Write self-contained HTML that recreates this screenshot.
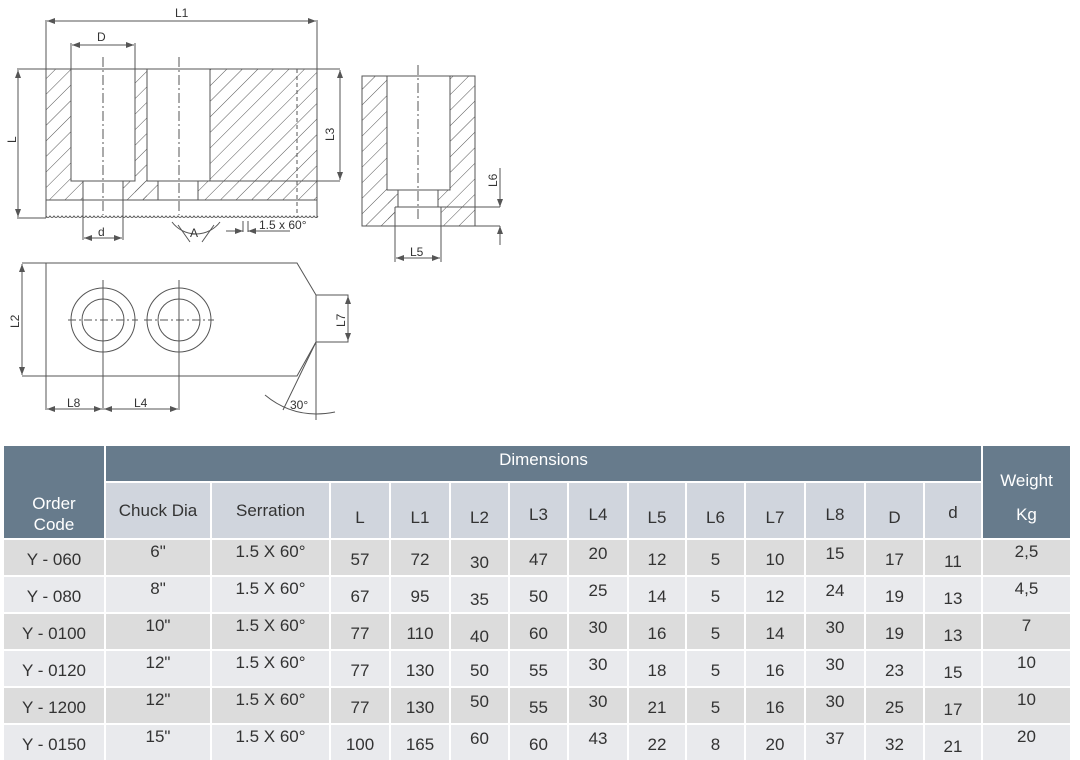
<!DOCTYPE html>
<html><head><meta charset="utf-8"><style>
html,body{margin:0;padding:0;background:#fff;width:1080px;height:759px;overflow:hidden;font-family:"Liberation Sans",sans-serif}
svg{position:absolute;left:0;top:0}
.g{position:absolute;left:4px;top:446px;display:grid;grid-template-columns:100px 104px 117px 58px 58px 57px 57px 58px 56px 57px 58px 58px 57px 56px 87px;grid-template-rows:35px 55px 35px 35px 35px 35px 35px 35px;gap:2px;}
.g div{display:flex;align-items:center;justify-content:center;color:#333;font-size:17px;padding-top:4px;box-sizing:border-box}
.g .h{background:#677b8c;color:#fff;padding-top:0}
.g .s{background:#d0d5dd;padding-top:14px}
.g .a{background:#dcdcdc}
.g .b{background:#e9eaed}
.g .w{align-items:flex-start;padding-top:2px}
</style></head><body>
<svg width="1080" height="440" viewBox="0 0 1080 440" font-family="Liberation Sans, sans-serif" font-size="11" fill="none" stroke="#555" stroke-width="1">
<defs>
<pattern id="hp" patternUnits="userSpaceOnUse" width="11" height="11" patternTransform="rotate(45)">
<line x1="0" y1="0" x2="0" y2="11" stroke="#555" stroke-width="1"/>
</pattern>
<marker id="ar" markerWidth="8" markerHeight="6" refX="8" refY="3" orient="auto-start-reverse" markerUnits="userSpaceOnUse"><path d="M0,0 L8,3 L0,6 z" fill="#555" stroke="none"/></marker>
</defs>
<g fill="url(#hp)" stroke="none">
<rect x="46" y="69" width="25" height="131"/>
<rect x="71" y="181" width="12" height="19"/>
<rect x="135" y="69" width="12" height="131"/>
<rect x="123" y="181" width="35" height="19"/>
<rect x="210" y="69" width="107" height="131"/>
<rect x="198" y="181" width="12" height="19"/>
<rect x="362" y="76" width="25" height="150"/>
<rect x="450" y="76" width="25" height="131"/>
<rect x="387" y="190" width="11" height="36"/>
<rect x="438" y="190" width="12" height="17"/>
<rect x="441" y="207" width="34" height="19"/>
</g>
<rect x="395" y="207" width="46" height="19" fill="#fff" stroke="none"/>
<rect x="388" y="190" width="7" height="36" fill="url(#hp)" stroke="none"/>
<line x1="17" y1="69" x2="340" y2="69"/>
<path d="M46 69 V218 M317 69 V218 M46 200 H317"/>
<path d="M71 69 V181 H135 V69 M147 69 V181 H210 V69"/>
<path d="M83 181 V240 M123 181 V240 M158 181 V200 M198 181 V200"/>
<line x1="210" y1="181" x2="340" y2="181"/>
<line x1="297" y1="69" x2="297" y2="218" stroke-dasharray="4,3"/>
<path d="M46 216 q2 3 4 0 q2 3 4 0 q2 3 4 0 q2 3 4 0 q2 3 4 0 q2 3 4 0 q2 3 4 0 q2 3 4 0 q2 3 4 0 q2 3 4 0 q2 3 4 0 q2 3 4 0 q2 3 4 0 q2 3 4 0 q2 3 4 0 q2 3 4 0 q2 3 4 0 q2 3 4 0 q2 3 4 0 q2 3 4 0 q2 3 4 0 q2 3 4 0 q2 3 4 0 q2 3 4 0 q2 3 4 0 q2 3 4 0 q2 3 4 0 q2 3 4 0 q2 3 4 0 q2 3 4 0 q2 3 4 0 q2 3 4 0 q2 3 4 0 q2 3 4 0 q2 3 4 0 q2 3 4 0 q2 3 4 0 q2 3 4 0 q2 3 4 0 q2 3 4 0 q2 3 4 0 q2 3 4 0 q2 3 4 0 q2 3 4 0 q2 3 4 0 q2 3 4 0 q2 3 4 0 q2 3 4 0 q2 3 4 0 q2 3 4 0 q2 3 4 0 q2 3 4 0 q2 3 4 0 q2 3 4 0 q2 3 4 0 q2 3 4 0 q2 3 4 0 q2 3 4 0 q2 3 4 0 q2 3 4 0 q2 3 4 0 q2 3 4 0 q2 3 4 0 q2 3 4 0 q2 3 4 0 q2 3 4 0 q2 3 4 0 q2 3 4 0"/>
<path d="M103 57 V215 M179 57 V215" stroke-dasharray="10,3,2,3"/>
<path d="M46 20 V69 M317 20 V69"/>
<line x1="47" y1="21" x2="316" y2="21" marker-start="url(#ar)" marker-end="url(#ar)"/>
<path d="M71 43 V69 M135 43 V69"/>
<line x1="72" y1="45" x2="134" y2="45" marker-start="url(#ar)" marker-end="url(#ar)"/>
<line x1="17" y1="218" x2="46" y2="218"/>
<line x1="18" y1="70" x2="18" y2="217" marker-start="url(#ar)" marker-end="url(#ar)"/>
<line x1="340" y1="70" x2="340" y2="180" marker-start="url(#ar)" marker-end="url(#ar)"/>
<line x1="84" y1="238" x2="122" y2="238" marker-start="url(#ar)" marker-end="url(#ar)"/>
<path d="M172 222 A30 30 0 0 0 220 222"/>
<path d="M178 225 L190 242 M214 225 L202 242"/>
<path d="M243 221 V232 M248 221 V232"/>
<line x1="226" y1="231" x2="243" y2="231" marker-end="url(#ar)"/>
<line x1="265" y1="231" x2="248" y2="231" marker-end="url(#ar)"/>
<line x1="252" y1="231" x2="290" y2="231"/>
<rect x="362" y="76" width="113" height="150"/>
<path d="M387 76 V190 H450 V76 M398 190 V207 M438 190 V207 M395 207 V262 M441 207 V262"/>
<path d="M395 207 H500 M475 226 H500"/>
<line x1="418" y1="65" x2="418" y2="222" stroke-dasharray="10,3,2,3"/>
<line x1="500" y1="168" x2="500" y2="207" marker-end="url(#ar)"/>
<line x1="500" y1="245" x2="500" y2="226" marker-end="url(#ar)"/>
<line x1="396" y1="258" x2="440" y2="258" marker-start="url(#ar)" marker-end="url(#ar)"/>
<path d="M22 263 H297 L316 295 V342 L297 376 H22 M46 263 V410 M316 295 H348 V342 H316"/>
<circle cx="103" cy="320" r="32"/><circle cx="103" cy="320" r="21"/>
<circle cx="179" cy="320" r="32"/><circle cx="179" cy="320" r="21"/>
<path d="M68 320 H138 M144 320 H214" stroke-dasharray="8,3,2,3"/>
<path d="M103 280 V410 M179 280 V410"/>
<line x1="22" y1="264" x2="22" y2="375" marker-start="url(#ar)" marker-end="url(#ar)"/>
<line x1="348" y1="296" x2="348" y2="341" marker-start="url(#ar)" marker-end="url(#ar)"/>
<line x1="47" y1="409" x2="102" y2="409" marker-start="url(#ar)" marker-end="url(#ar)"/>
<line x1="104" y1="409" x2="178" y2="409" marker-start="url(#ar)" marker-end="url(#ar)"/>
<path d="M316 342 L283 410 M316 342 V420"/>
<path d="M265 395 Q295 420 335 412"/>
<g fill="#333" stroke="none" font-size="12">
<text x="175" y="17">L1</text>
<text x="97" y="41">D</text>
<text x="98" y="236">d</text>
<text x="190" y="237">A</text>
<text x="259" y="229">1.5 x 60°</text>
<text x="410" y="256">L5</text>
<text x="67" y="407">L8</text>
<text x="134" y="407">L4</text>
<text x="290" y="409">30°</text>
<text transform="translate(16,143) rotate(-90)">L</text>
<text transform="translate(334,141) rotate(-90)">L3</text>
<text transform="translate(497,187) rotate(-90)">L6</text>
<text transform="translate(19,328) rotate(-90)">L2</text>
<text transform="translate(345,327) rotate(-90)">L7</text>
</g>
</svg>
<div class="g">
<div class="h" style="grid-row:1/3;grid-column:1;padding-top:44px;line-height:21px;text-align:center">Order<br>Code</div>
<div class="h" style="grid-row:1;grid-column:2/15;padding-bottom:8px">Dimensions</div>
<div class="h" style="grid-row:1/3;grid-column:15;padding-top:12px;line-height:34px;text-align:center">Weight<br>Kg</div>
<div class="s" style="padding-top:0">Chuck Dia</div><div class="s" style="padding-top:0">Serration</div><div class="s">L</div><div class="s">L1</div><div class="s">L2</div><div class="s" style="padding-top:8px">L3</div><div class="s" style="padding-top:8px">L4</div><div class="s">L5</div><div class="s">L6</div><div class="s">L7</div><div class="s" style="padding-top:8px">L8</div><div class="s">D</div><div class="s" style="padding-top:4px">d</div>

<div class="a">Y - 060</div><div class="a w">6"</div><div class="a w">1.5 X 60°</div><div class="a">57</div><div class="a">72</div><div class="a" style="padding-top:10px">30</div><div class="a">47</div><div class="a w" style="padding-top:4px">20</div><div class="a">12</div><div class="a">5</div><div class="a">10</div><div class="a w" style="padding-top:4px">15</div><div class="a">17</div><div class="a" style="padding-top:8px">11</div><div class="a w">2,5</div>
<div class="b">Y - 080</div><div class="b w">8"</div><div class="b w">1.5 X 60°</div><div class="b">67</div><div class="b">95</div><div class="b" style="padding-top:10px">35</div><div class="b">50</div><div class="b w" style="padding-top:4px">25</div><div class="b">14</div><div class="b">5</div><div class="b">12</div><div class="b w" style="padding-top:4px">24</div><div class="b">19</div><div class="b" style="padding-top:8px">13</div><div class="b w">4,5</div>
<div class="a">Y - 0100</div><div class="a w">10"</div><div class="a w">1.5 X 60°</div><div class="a">77</div><div class="a">110</div><div class="a" style="padding-top:10px">40</div><div class="a">60</div><div class="a w" style="padding-top:4px">30</div><div class="a">16</div><div class="a">5</div><div class="a">14</div><div class="a w" style="padding-top:4px">30</div><div class="a">19</div><div class="a" style="padding-top:8px">13</div><div class="a w">7</div>
<div class="b">Y - 0120</div><div class="b w">12"</div><div class="b w">1.5 X 60°</div><div class="b">77</div><div class="b">130</div><div class="b">50</div><div class="b">55</div><div class="b w" style="padding-top:4px">30</div><div class="b">18</div><div class="b">5</div><div class="b">16</div><div class="b w" style="padding-top:4px">30</div><div class="b">23</div><div class="b" style="padding-top:8px">15</div><div class="b w">10</div>
<div class="a">Y - 1200</div><div class="a w">12"</div><div class="a w">1.5 X 60°</div><div class="a">77</div><div class="a">130</div><div class="a w" style="padding-top:4px">50</div><div class="a">55</div><div class="a w" style="padding-top:4px">30</div><div class="a">21</div><div class="a">5</div><div class="a">16</div><div class="a w" style="padding-top:4px">30</div><div class="a">25</div><div class="a" style="padding-top:8px">17</div><div class="a w">10</div>
<div class="b">Y - 0150</div><div class="b w">15"</div><div class="b w">1.5 X 60°</div><div class="b">100</div><div class="b">165</div><div class="b w" style="padding-top:4px">60</div><div class="b">60</div><div class="b w" style="padding-top:4px">43</div><div class="b">22</div><div class="b">8</div><div class="b">20</div><div class="b w" style="padding-top:4px">37</div><div class="b">32</div><div class="b" style="padding-top:8px">21</div><div class="b w">20</div>
</div>
</body></html>
